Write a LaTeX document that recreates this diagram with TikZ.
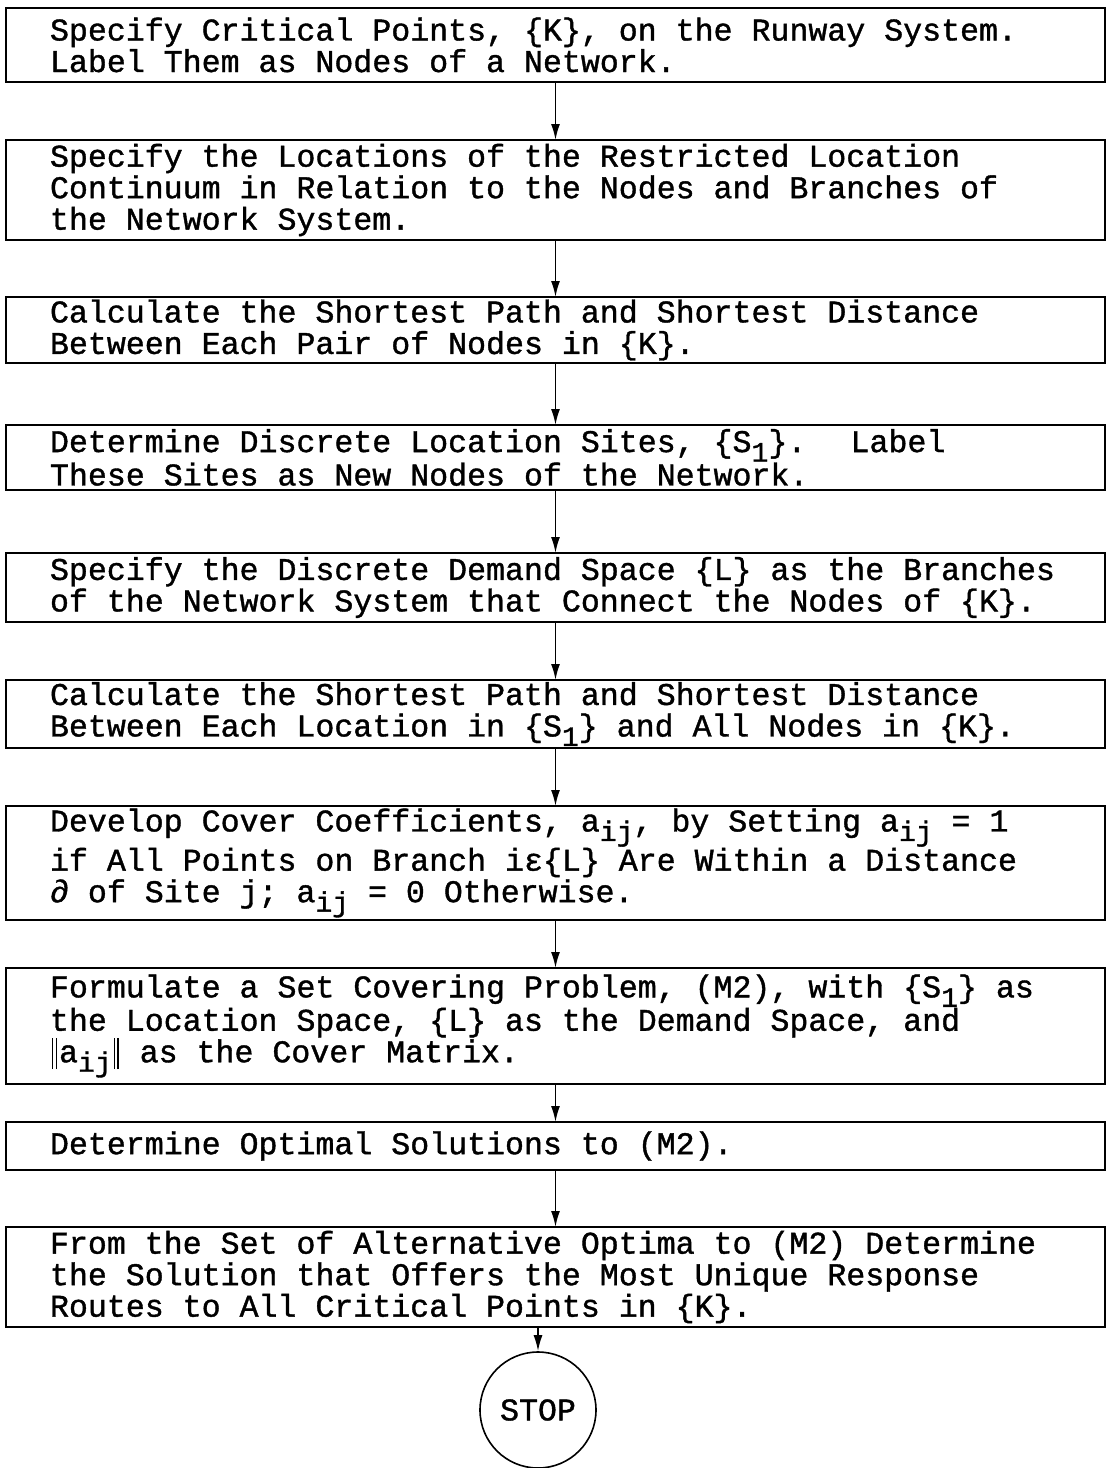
\documentclass[tikz,border=0pt]{standalone}
\usepackage{fontspec}
\setmainfont{Liberation Mono}[FakeBold=1.2]
\usetikzlibrary{positioning,arrows.meta}

\newcommand\lowsub[1]{\raisebox{-0.3em}{\fontsize{28pt}{28pt}\selectfont #1}}
\newcommand\dblbar{\hspace{2pt}\rule[-0.22em]{1.3pt}{1em}\hspace{2.5pt}\rule[-0.22em]{1.3pt}{1em}\hspace{2pt}}
\newcommand\monofont{\fontsize{31.6pt}{31.5pt}\selectfont
  \fontdimen2\font=0.6em \fontdimen3\font=0pt \fontdimen4\font=0pt}

\begin{document}
\begin{tikzpicture}[x=1pt, y=1pt,
  font=\monofont,
  stepbox/.style={draw, line width=1.8pt, align=left, text width=1011pt,
                  inner xsep=44pt, inner ysep=0pt, outer sep=0pt, minimum width=1099pt,
                  execute at begin node={\spaceskip=0pt\xspaceskip=0pt}},
  stopnode/.style={draw, circle, line width=1.6pt, minimum size=116pt, inner sep=0pt},
  arr/.style={-{Latex[length=16pt, width=9pt]}, line width=1.8pt}]
\useasboundingbox (0,0) rectangle (1107,-1468);

% ---- steps of the procedure ----
\node[stepbox, minimum height=74pt, anchor=north] (crit) at (555.5,-8)
  {Specify Critical Points, \{K\}, on the Runway System.\\Label Them as Nodes of a Network.};
\node[stepbox, minimum height=100pt, below=58pt of crit] (cont)
  {Specify the Locations of the Restricted Location\\Continuum in Relation to the Nodes and Branches of\\the Network System.};
\node[stepbox, minimum height=66pt, below=57pt of cont] (pathk)
  {Calculate the Shortest Path and Shortest Distance\\Between Each Pair of Nodes in \{K\}.};
\node[stepbox, minimum height=65pt, below=62pt of pathk] (sites)
  {Determine Discrete Location Sites, \{S\lowsub{1}\}.~ Label\\These Sites as New Nodes of the Network.};
\node[stepbox, minimum height=69pt, below=63pt of sites] (demand)
  {Specify the Discrete Demand Space \{L\} as the Branches\\of the Network System that Connect the Nodes of \{K\}.};
\node[stepbox, minimum height=68pt, below=58pt of demand] (paths)
  {Calculate the Shortest Path and Shortest Distance\\Between Each Location in \{S\lowsub{1}\} and All Nodes in \{K\}.};
\node[stepbox, minimum height=114pt, below=58pt of paths] (cover)
  {Develop Cover Coefficients, a\lowsub{ij}, by Setting a\lowsub{ij} = 1\\if All Points on Branch iε\{L\} Are Within a Distance\\∂ of Site j; a\lowsub{ij} = 0 Otherwise.};
\node[stepbox, minimum height=116pt, below=48pt of cover] (setcov)
  {Formulate a Set Covering Problem, (M2), with \{S\lowsub{1}\} as\\the Location Space, \{L\} as the Demand Space, and\\\dblbar a\lowsub{ij}\dblbar{} as the Cover Matrix.};
\node[stepbox, minimum height=48pt, below=38pt of setcov] (optim)
  {Determine Optimal Solutions to (M2).};
\node[stepbox, minimum height=100pt, below=57pt of optim] (best)
  {From the Set of Alternative Optima to (M2) Determine\\the Solution that Offers the Most Unique Response\\Routes to All Critical Points in \{K\}.};
\node[stopnode] (stop) at (538,-1410) {STOP};

% ---- flow ----
\draw[arr] (crit) -- (cont);
\draw[arr] (cont) -- (pathk);
\draw[arr] (pathk) -- (sites);
\draw[arr] (sites) -- (demand);
\draw[arr] (demand) -- (paths);
\draw[arr] (paths) -- (cover);
\draw[arr] (cover) -- (setcov);
\draw[arr] (setcov) -- (optim);
\draw[arr] (optim) -- (best);
\draw[arr] (stop |- best.south) -- (stop);
\end{tikzpicture}
\end{document}
